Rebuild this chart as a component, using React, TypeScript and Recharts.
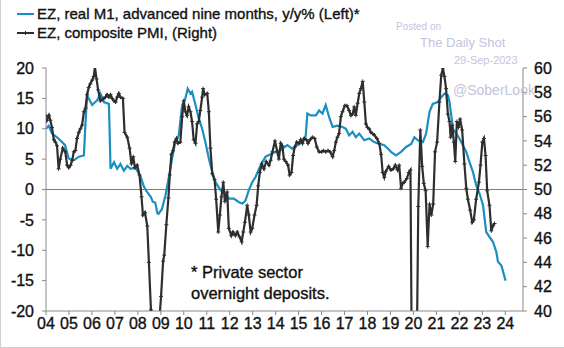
import React from 'react';
import { LineChart, Line, XAxis, YAxis, ReferenceLine } from 'recharts';

// EZ real M1 (advanced nine months), y/y %, left axis
const m1Dates = [
  2004.0, 2004.12, 2004.26, 2004.48, 2004.7, 2004.83, 2004.99, 2005.21, 2005.43, 2005.65,
  2005.72, 2005.79, 2006.01, 2006.23, 2006.37, 2006.52, 2006.74, 2006.81, 2006.96, 2007.1,
  2007.24, 2007.39, 2007.54, 2007.68, 2007.9, 2008.12, 2008.27, 2008.4, 2008.56, 2008.65,
  2008.76, 2008.85, 2008.9, 2009.05, 2009.2, 2009.34, 2009.49, 2009.63, 2009.78, 2009.93,
  2010.07, 2010.17, 2010.29, 2010.36, 2010.51, 2010.65, 2010.8, 2010.94, 2011.09, 2011.24,
  2011.38, 2011.6, 2011.82, 2011.96, 2012.18, 2012.4, 2012.55, 2012.69, 2012.83, 2012.98,
  2013.13, 2013.27, 2013.42, 2013.56, 2013.78, 2014.0, 2014.22, 2014.51, 2014.73, 2014.95,
  2015.17, 2015.31, 2015.38, 2015.53, 2015.75, 2015.89, 2016.04, 2016.18, 2016.33, 2016.48,
  2016.69, 2016.91, 2017.06, 2017.2, 2017.35, 2017.49, 2017.64, 2017.86, 2018.07, 2018.29,
  2018.51, 2018.73, 2018.95, 2019.02, 2019.24, 2019.46, 2019.68, 2019.9, 2020.04, 2020.19,
  2020.41, 2020.55, 2020.7, 2020.84, 2021.06, 2021.21, 2021.35, 2021.5, 2021.57, 2021.72,
  2021.86, 2022.0, 2022.15, 2022.3, 2022.44, 2022.59, 2022.73, 2022.88, 2023.03, 2023.17,
  2023.31, 2023.46, 2023.61, 2023.68, 2023.83, 2024.01,
];
const m1Values = [
  10.0, 10.5, 9.2, 8.6, 7.8, 7.3, 5.1, 4.8, 5.4, 5.6,
  11.0, 15.5, 13.9, 14.7, 15.8, 14.4, 14.1, 3.4, 4.5, 3.4,
  4.2, 3.1, 3.9, 3.4, 3.6, 2.1, 0.4, -0.4, -1.2, -2.0,
  -2.2, -3.9, -4.0, -3.2, -1.0, 1.8, 5.1, 7.8, 8.9, 13.9,
  15.0, 16.6, 15.8, 16.1, 13.9, 11.7, 10.0, 7.8, 5.1, 2.9,
  1.2, -0.1, -0.7, -1.5, -1.5, -2.1, -2.3, -1.8, -0.1, 1.2,
  2.1, 3.4, 4.5, 5.4, 5.8, 6.2, 6.5, 7.3, 6.7, 7.3,
  7.8, 8.9, 12.5, 12.2, 12.2, 13.0, 12.5, 13.9, 11.9, 10.3,
  10.5, 10.3, 10.0, 8.9, 9.5, 8.6, 9.2, 8.1, 8.4, 7.8,
  7.5, 7.3, 6.5, 6.2, 5.6, 6.2, 7.0, 7.5, 8.6, 8.1,
  7.8, 9.2, 12.8, 14.1, 14.4, 15.2, 15.8, 15.5, 14.4, 10.0,
  9.2, 8.4, 7.3, 6.2, 4.5, 2.9, 0.7, -0.7, -2.6, -7.0,
  -7.8, -8.6, -10.3, -11.9, -12.5, -15.0,
];

// EZ composite PMI, right axis
const pmiDates = [
  2004.0, 2004.04, 2004.13, 2004.19, 2004.26, 2004.34, 2004.41, 2004.48, 2004.55, 2004.62,
  2004.73, 2004.84, 2004.92, 2004.99, 2005.07, 2005.14, 2005.21, 2005.28, 2005.35, 2005.43,
  2005.5, 2005.57, 2005.65, 2005.72, 2005.79, 2005.86, 2005.93, 2006.01, 2006.08, 2006.13,
  2006.2, 2006.27, 2006.37, 2006.45, 2006.52, 2006.59, 2006.66, 2006.74, 2006.81, 2006.88,
  2006.96, 2007.03, 2007.1, 2007.17, 2007.24, 2007.35, 2007.42, 2007.54, 2007.64, 2007.72,
  2007.8, 2007.87, 2007.97, 2008.07, 2008.16, 2008.22, 2008.31, 2008.41, 2008.48, 2008.57,
  2008.65, 2008.73, 2008.82, 2008.9, 2009.01, 2009.1, 2009.15, 2009.24, 2009.33, 2009.39,
  2009.46, 2009.53, 2009.6, 2009.68, 2009.75, 2009.85, 2009.93, 2010.0, 2010.07, 2010.14,
  2010.21, 2010.29, 2010.36, 2010.43, 2010.51, 2010.58, 2010.65, 2010.72, 2010.8, 2010.84,
  2010.91, 2011.02, 2011.09, 2011.16, 2011.24, 2011.34, 2011.41, 2011.5, 2011.57, 2011.64,
  2011.72, 2011.79, 2011.89, 2011.96, 2012.07, 2012.14, 2012.25, 2012.33, 2012.43, 2012.52,
  2012.59, 2012.66, 2012.76, 2012.83, 2012.91, 2012.98, 2013.08, 2013.17, 2013.24, 2013.31,
  2013.39, 2013.49, 2013.59, 2013.71, 2013.78, 2013.86, 2013.97, 2014.07, 2014.14, 2014.22,
  2014.29, 2014.36, 2014.44, 2014.54, 2014.61, 2014.69, 2014.76, 2014.83, 2014.92, 2015.02,
  2015.09, 2015.17, 2015.24, 2015.34, 2015.41, 2015.5, 2015.6, 2015.7, 2015.79, 2015.89,
  2016.0, 2016.08, 2016.18, 2016.28, 2016.37, 2016.48, 2016.55, 2016.62, 2016.69, 2016.76,
  2016.84, 2016.91, 2017.01, 2017.1, 2017.2, 2017.28, 2017.35, 2017.42, 2017.49, 2017.57,
  2017.64, 2017.71, 2017.79, 2017.86, 2017.93, 2018.0, 2018.07, 2018.15, 2018.22, 2018.29,
  2018.41, 2018.51, 2018.59, 2018.66, 2018.73, 2018.8, 2018.92, 2019.02, 2019.12, 2019.21,
  2019.31, 2019.38, 2019.46, 2019.53, 2019.6, 2019.71, 2019.8, 2019.87, 2019.95, 2020.04,
  2020.12, 2020.21, 2020.3, 2020.38, 2020.45, 2020.53, 2020.62, 2020.7, 2020.78, 2020.86,
  2020.94, 2021.03, 2021.13, 2021.21, 2021.28, 2021.35, 2021.42, 2021.5, 2021.57, 2021.62,
  2021.69, 2021.76, 2021.82, 2021.89, 2021.96, 2022.03, 2022.12, 2022.22, 2022.3, 2022.37,
  2022.47, 2022.56, 2022.63, 2022.73, 2022.85, 2022.92, 2023.0, 2023.07, 2023.14, 2023.21,
  2023.31, 2023.39, 2023.46, 2023.53,
];
const pmiValues = [
  56.1, 55.7, 56.1, 55.7, 55.1, 54.1, 53.9, 53.6, 51.7, 52.5,
  53.4, 53.1, 52.0, 51.8, 52.0, 52.4, 53.1, 53.2, 54.2, 54.7,
  55.0, 55.3, 56.4, 56.7, 57.8, 58.4, 58.7, 59.0, 59.3, 60.1,
  59.1, 58.2, 57.3, 57.4, 57.5, 57.6, 57.8, 57.6, 57.8, 57.5,
  57.3, 57.2, 57.6, 57.9, 57.6, 57.5, 54.7, 54.3, 53.4, 52.1,
  52.7, 51.8, 52.0, 51.2, 49.4, 47.9, 48.1, 47.0, 44.0, 40.1,
  38.5, 38.2, 36.5, 38.3, 41.2, 44.1, 44.6, 47.1, 49.3, 51.2,
  52.9, 53.2, 53.9, 54.2, 53.8, 53.9, 56.0, 57.3, 56.4, 56.1,
  56.8, 56.4, 55.6, 54.1, 53.8, 55.4, 55.6, 56.5, 57.6, 58.3,
  57.8, 57.9, 56.4, 53.4, 51.3, 50.8, 49.2, 46.5, 47.9, 49.4,
  50.6, 49.0, 49.8, 46.8, 46.2, 46.5, 46.2, 46.5, 46.1, 45.7,
  46.5, 47.3, 48.7, 47.9, 46.5, 46.8, 47.9, 48.7, 50.3, 51.4,
  52.1, 51.7, 52.3, 52.0, 52.4, 53.1, 54.0, 53.1, 52.5, 53.8,
  53.6, 52.5, 52.3, 52.0, 51.2, 51.4, 52.8, 53.5, 53.9, 53.8,
  54.1, 53.8, 54.2, 54.1, 53.8, 54.1, 54.3, 54.2, 53.5, 53.1,
  53.1, 53.2, 53.1, 53.2, 53.1, 52.7, 53.2, 53.9, 54.3, 54.6,
  56.0, 56.4, 56.9, 56.9, 56.5, 56.1, 56.2, 56.8, 56.1, 57.1,
  57.9, 58.3, 58.9, 57.2, 55.4, 55.1, 55.0, 54.7, 54.6, 54.5,
  54.2, 53.8, 52.9, 51.4, 51.0, 51.5, 51.9, 51.6, 51.7, 52.0,
  51.6, 52.0, 50.1, 50.5, 50.6, 50.9, 51.4, 51.6, 29.7, 13.6,
  31.9, 48.6, 54.9, 51.9, 50.5, 49.9, 45.3, 48.8, 47.9, 48.8,
  53.1, 53.9, 57.2, 59.4, 60.0, 59.3, 58.3, 56.2, 55.6, 54.3,
  55.3, 53.9, 52.3, 55.6, 55.1, 55.8, 54.9, 52.1, 50.1, 49.2,
  48.3, 47.3, 47.5, 49.2, 50.6, 52.0, 53.9, 54.2, 52.8, 49.9,
  48.7, 46.6, 47.0, 47.2,
];

const yearTicks = [
  2004, 2005, 2006, 2007, 2008, 2009, 2010, 2011, 2012, 2013, 2014,
  2015, 2016, 2017, 2018, 2019, 2020, 2021, 2022, 2023, 2024,
];
const leftTicks = [-20, -15, -10, -5, 0, 5, 10, 15, 20];
const rightTicks = [40, 42, 44, 46, 48, 50, 52, 54, 56, 58, 60];

const m1Data = m1Dates.map((t, i) => ({ t, v: m1Values[i] }));
const pmiData = pmiDates.map((t, i) => ({ t, v: pmiValues[i] }));

const BLUE = '#1a8fc0';
const DARK = '#2e2e2e';
const AXIS = '#8a8a8a';
const FONT = '"Liberation Sans", Arial, sans-serif';
const WM = '#c3c3de';

// slight stroke gives the medium weight of the original font
const tickStyle = { fill: '#111', fontSize: 16, fontFamily: FONT, stroke: '#111', strokeWidth: 0.35 };
const heavyText = { WebkitTextStroke: '0.35px #111' } as React.CSSProperties;

const PlusDot = (props: any) => {
  const { cx, cy, index } = props;
  if (cx == null || cy == null) return <g key={index} />;
  return (
    <path
      key={index}
      d={`M${cx - 2},${cy}h4M${cx},${cy - 2}v4`}
      stroke={DARK}
      strokeWidth={1}
    />
  );
};

export default function App() {
  return (
    <div
      style={{
        position: 'absolute',
        left: 0,
        top: 0,
        width: 564,
        height: 348,
        background: '#fff',
        fontFamily: FONT,
        borderLeft: '1px solid #cfcfcf',
        borderBottom: '1px solid #cfcfcf',
        boxSizing: 'border-box',
        overflow: 'hidden',
      }}
    >
      <LineChart
        width={564}
        height={348}
        margin={{ top: 68, right: 0, bottom: 0, left: -1 }}
        style={{ position: 'absolute', left: 0, top: 0 }}
      >
        <XAxis
          type="number"
          dataKey="t"
          domain={[2004, 2024.77]}
          ticks={yearTicks}
          tickFormatter={(v: number) => String(v).slice(2)}
          allowDataOverflow
          height={37}
          tickSize={4}
          tickMargin={3}
          stroke={AXIS}
          tick={tickStyle}
          interval={0}
        />
        <YAxis
          yAxisId="left"
          domain={[-20, 20]}
          ticks={leftTicks}
          width={46}
          tickSize={4}
          tickMargin={8}
          stroke={AXIS}
          tick={tickStyle}
          allowDataOverflow
          interval={0}
        />
        <YAxis
          yAxisId="right"
          orientation="right"
          domain={[40, 60]}
          ticks={rightTicks}
          width={42}
          tickSize={4}
          tickMargin={7}
          stroke={AXIS}
          tick={tickStyle}
          allowDataOverflow
          interval={0}
        />
        <ReferenceLine yAxisId="left" y={0} stroke="#7f7f7f" strokeWidth={1} />
        <Line
          yAxisId="left"
          data={m1Data}
          dataKey="v"
          type="linear"
          stroke={BLUE}
          strokeWidth={2.2}
          dot={false}
          isAnimationActive={false}
        />
        <Line
          yAxisId="right"
          data={pmiData}
          dataKey="v"
          type="linear"
          stroke={DARK}
          strokeWidth={2.2}
          dot={PlusDot}
          isAnimationActive={false}
        />
      </LineChart>

      {/* legend */}
      <div style={{ position: 'absolute', left: 16, top: 4, fontSize: 15, color: '#111', lineHeight: '19px', ...heavyText }}>
        <div style={{ display: 'flex', alignItems: 'center' }}>
          <span style={{ display: 'inline-block', width: 17, height: 2, background: BLUE, marginRight: 3 }} />
          <span>EZ, real M1, advanced nine months, y/y% (Left)*</span>
        </div>
        <div style={{ display: 'flex', alignItems: 'center' }}>
          <svg width={17} height={6} style={{ marginRight: 3 }}>
            <line x1={0} y1={3} x2={17} y2={3} stroke={DARK} strokeWidth={2} />
            <path d="M8.5,1v4M6.5,3h4" stroke={DARK} strokeWidth={1} />
          </svg>
          <span>EZ, composite PMI, (Right)</span>
        </div>
      </div>

      {/* watermark */}
      <div style={{ position: 'absolute', left: 395, top: 21, fontSize: 10, color: WM }}>Posted on</div>
      <div style={{ position: 'absolute', left: 419, top: 35, fontSize: 13, color: WM }}>The Daily Shot</div>
      <div style={{ position: 'absolute', left: 453, top: 54, fontSize: 11, color: WM }}>29-Sep-2023</div>
      <div style={{ position: 'absolute', left: 452, top: 82, fontSize: 14, color: WM }}>@SoberLook</div>

      {/* footnote */}
      <div style={{ position: 'absolute', left: 190, top: 262, fontSize: 16.5, color: '#111', lineHeight: '21px', ...heavyText }}>
        <div>* Private sector</div>
        <div>overnight deposits.</div>
      </div>
    </div>
  );
}
